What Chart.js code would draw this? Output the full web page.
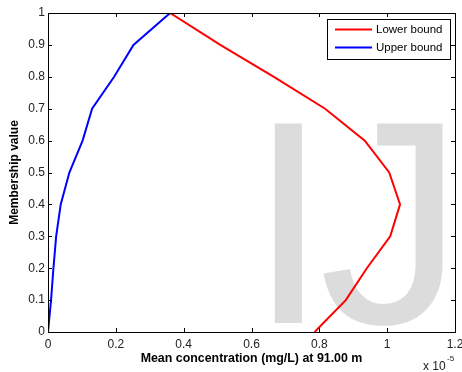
<!DOCTYPE html>
<html>
<head>
<meta charset="utf-8">
<script src="https://cdn.jsdelivr.net/npm/chart.js@4.4.0/dist/chart.umd.min.js"></script>
<style>
  html, body { margin:0; padding:0; background:#fff; }
  #wrap { width:462px; height:372px; position:relative; }
</style>
</head>
<body>
<div id="wrap"><canvas id="chart" width="462" height="372"></canvas></div>
<script>
// membership levels (y) and concentrations (x, in units of 1e-5 mg/L)
const membership = [0, 0.1, 0.2, 0.3, 0.4, 0.5, 0.6, 0.7, 0.8, 0.9, 1.0];
const lowerBound = [0.786, 0.878, 0.94, 1.009, 1.038, 1.006, 0.934, 0.817, 0.666, 0.508, 0.36];
const upperBound = [0, 0.009, 0.016, 0.024, 0.0375, 0.063, 0.102, 0.130, 0.195, 0.252, 0.36];
const seriesNames = ['Lower bound', 'Upper bound'];
const seriesColors = ['#ff0000', '#0000ff'];

const FONT = 'Arial, "Liberation Sans", sans-serif';

function pts(xs){ return xs.map((x,i)=>({ x: x, y: membership[i] })); }
const tickFmt = (v) => String(+Number(v).toFixed(1));

// watermark "IJ" behind the lines
const watermark = {
  id: 'watermark',
  beforeDatasetsDraw(chart){
    const c = chart.ctx;
    c.save();
    c.fillStyle = '#dcdcdc';
    c.font = '290px ' + FONT;
    c.textBaseline = 'alphabetic';
    c.fillText('I', 248, 323);
    c.fillText('J', 319, 323);
    c.restore();
  }
};

// MATLAB-style box with inward ticks, legend and exponent label
const frame = {
  id: 'frame',
  afterDatasetsDraw(chart){
    const c = chart.ctx, a = chart.chartArea;
    const xs = chart.scales.x, ys = chart.scales.y;
    c.save();
    c.strokeStyle = '#000'; c.lineWidth = 1;
    c.strokeRect(Math.round(a.left) + 0.5, Math.round(a.top) + 0.5, Math.round(a.right - a.left), Math.round(a.bottom - a.top));
    c.beginPath();
    xs.ticks.forEach(t => {
      const px = Math.round(xs.getPixelForValue(t.value)) + 0.5;
      c.moveTo(px, a.bottom); c.lineTo(px, a.bottom - 4);
      c.moveTo(px, a.top); c.lineTo(px, a.top + 4);
    });
    ys.ticks.forEach(t => {
      const py = Math.round(ys.getPixelForValue(t.value)) + 0.5;
      c.moveTo(a.left, py); c.lineTo(a.left + 4, py);
      c.moveTo(a.right, py); c.lineTo(a.right - 4, py);
    });
    c.stroke();

    // legend
    const lx = 327, ly = 19, lw = 123, lh = 40;
    c.fillStyle = '#fff';
    c.fillRect(lx, ly, lw, lh);
    c.strokeRect(lx + 0.5, ly + 0.5, lw, lh);
    c.font = '11.5px ' + FONT;
    c.textBaseline = 'middle';
    seriesNames.forEach((n, i) => {
      const y = ly + 10.5 + i * 18;
      c.strokeStyle = seriesColors[i]; c.lineWidth = 2;
      c.beginPath(); c.moveTo(lx + 8, y); c.lineTo(lx + 45, y); c.stroke();
      c.fillStyle = '#000';
      c.fillText(n, lx + 49, y);
    });

    // exponent
    c.fillStyle = '#222';
    c.font = '12px ' + FONT;
    c.textBaseline = 'alphabetic';
    c.fillText('x 10', 423, 370);
    c.font = '8px ' + FONT;
    c.fillText('-5', 447, 361);
    c.restore();
  }
};

new Chart(document.getElementById('chart'), {
  type: 'scatter',
  data: {
    datasets: [
      { label: seriesNames[0], data: pts(lowerBound), showLine: true, borderColor: seriesColors[0], borderWidth: 2, pointRadius: 0, tension: 0 },
      { label: seriesNames[1], data: pts(upperBound), showLine: true, borderColor: seriesColors[1], borderWidth: 2, pointRadius: 0, tension: 0 }
    ]
  },
  options: {
    responsive: false,
    animation: false,
    layout: { padding: { top: 13, right: 7, left: 0, bottom: 0 } },
    plugins: { legend: { display: false }, tooltip: { enabled: false } },
    scales: {
      x: {
        min: 0, max: 1.2,
        grid: { display: false, drawTicks: false },
        border: { display: false },
        ticks: { stepSize: 0.2, color: '#222', font: { family: FONT, size: 12 }, padding: 5, callback: tickFmt, maxRotation: 0 },
        title: { display: true, text: 'Mean concentration (mg/L) at 91.00 m', color: '#000', font: { family: FONT, size: 12.4, weight: 'bold' }, padding: { top: 1, bottom: 6 } },
        afterFit(s){ s.height = 40; s.paddingLeft = 0; s.paddingRight = 0; }
      },
      y: {
        min: 0, max: 1,
        grid: { display: false, drawTicks: false },
        border: { display: false },
        ticks: { stepSize: 0.1, color: '#222', font: { family: FONT, size: 12 }, padding: 3, callback: tickFmt },
        title: { display: true, text: 'Membership value', color: '#000', font: { family: FONT, size: 12, weight: 'bold' }, padding: { top: 7, bottom: 4 } },
        afterFit(s){ s.width = 48; s.paddingTop = 0; s.paddingBottom = 0; }
      }
    }
  },
  plugins: [watermark, frame]
});
</script>
</body>
</html>
